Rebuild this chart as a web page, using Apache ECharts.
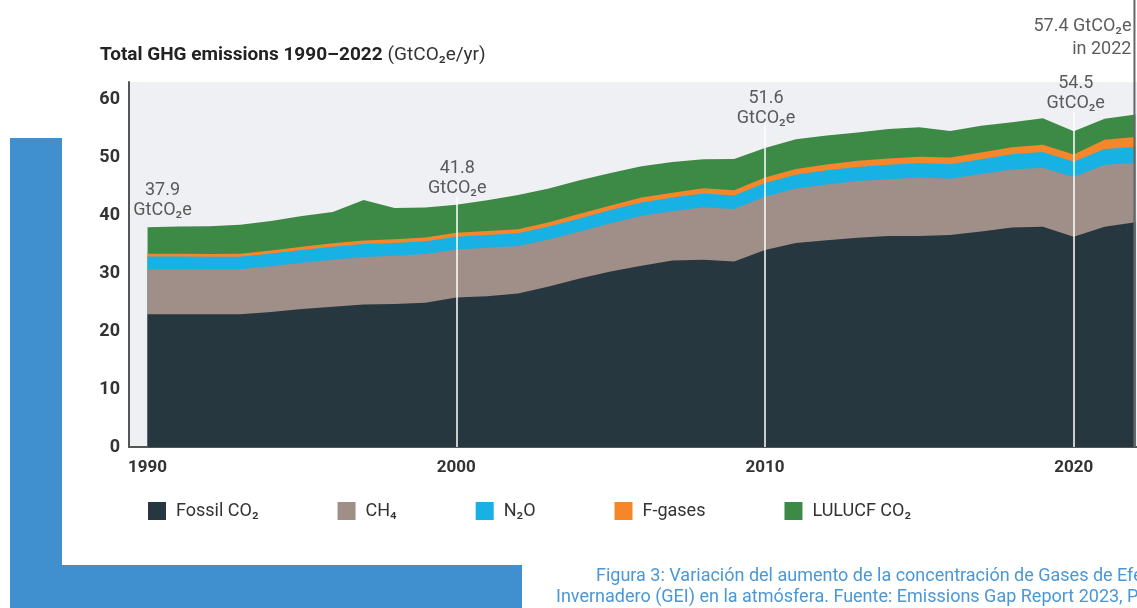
<!DOCTYPE html>
<html>
<head>
<meta charset="utf-8">
<script src="https://cdn.jsdelivr.net/npm/echarts@6/dist/echarts.min.js"></script>
<style>
  html, body { margin: 0; padding: 0; background: #fff; }
  #GhgChart { width: 1137px; height: 608px; }
</style>
</head>
<body>
<div id="GhgChart"></div>
<script>
// 年份与各类排放 (GtCO2e/yr)
const years = [1990, 1991, 1992, 1993, 1994, 1995, 1996, 1997, 1998, 1999,
  2000, 2001, 2002, 2003, 2004, 2005, 2006, 2007, 2008, 2009,
  2010, 2011, 2012, 2013, 2014, 2015, 2016, 2017, 2018, 2019,
  2020, 2021, 2022];
const fossilCO2 = [22.9, 22.9, 22.9, 22.9, 23.3, 23.8, 24.2, 24.6, 24.7, 24.9,
  25.8, 26.0, 26.5, 27.7, 29.1, 30.3, 31.3, 32.2, 32.3, 32.0,
  34.0, 35.2, 35.7, 36.1, 36.4, 36.4, 36.6, 37.2, 37.9, 38.0,
  36.3, 38.0, 38.8];
const ch4 = [7.8, 7.8, 7.8, 7.8, 7.9, 8.0, 8.1, 8.2, 8.3, 8.4,
  8.3, 8.4, 8.2, 8.1, 8.1, 8.3, 8.6, 8.5, 9.1, 9.1,
  9.2, 9.4, 9.6, 9.8, 9.8, 10.1, 9.7, 9.9, 10.0, 10.2,
  10.3, 10.7, 10.2];
const n2o = [2.2, 2.2, 2.15, 2.15, 2.2, 2.2, 2.25, 2.25, 2.2, 2.2,
  2.2, 2.2, 2.2, 2.25, 2.25, 2.3, 2.3, 2.35, 2.35, 2.3,
  2.35, 2.4, 2.45, 2.45, 2.5, 2.5, 2.5, 2.55, 2.65, 2.7,
  2.65, 2.75, 2.8];
const fGases = [0.45, 0.45, 0.45, 0.5, 0.5, 0.55, 0.6, 0.6, 0.65, 0.65,
  0.7, 0.7, 0.7, 0.75, 0.8, 0.8, 0.85, 0.85, 0.9, 0.9,
  0.95, 1.0, 1.0, 1.05, 1.1, 1.1, 1.15, 1.2, 1.2, 1.25,
  1.25, 1.6, 1.7];
const lulucfCO2 = [4.6, 4.7, 4.8, 5.0, 5.1, 5.3, 5.4, 7.0, 5.4, 5.2,
  4.8, 5.3, 5.9, 5.8, 5.8, 5.6, 5.4, 5.3, 5.0, 5.4,
  5.1, 5.1, 5.0, 4.9, 5.1, 5.1, 4.6, 4.6, 4.3, 4.6,
  4.0, 3.6, 3.9];

const seriesNames = ['Fossil CO₂', 'CH₄', 'N₂O', 'F-gases', 'LULUCF CO₂'];
const seriesColors = ['#27373f', '#a08e88', '#17b1e3', '#f6862a', '#3d8a47'];

// 轴刻度
const xTicks = [1990, 2000, 2010, 2020];
const yTicks = [0, 10, 20, 30, 40, 50, 60];

// 标注 (总量)
const annotYears = [1990, 2000, 2010, 2020];
const annotTotals = [37.9, 41.8, 51.6, 54.5];
const finalYear = 2022;
const finalTotal = 57.4;

const FONT = 'Roboto, "Noto Sans", "DejaVu Sans", sans-serif';

const myChart = echarts.init(document.getElementById('GhgChart'));

// 累计值，从上往下画（上层先画，下层覆盖）
const layers = [fossilCO2, ch4, n2o, fGases, lulucfCO2];
const cumulative = [];
layers.forEach(function (vals, i) {
  cumulative.push(vals.map(function (v, k) {
    return (i > 0 ? cumulative[i - 1][k] : 0) + v;
  }));
});

const areaSeries = [];
for (let i = layers.length - 1; i >= 0; i--) {
  areaSeries.push({
    name: seriesNames[i],
    type: 'line',
    showSymbol: false,
    symbol: 'none',
    silent: true,
    lineStyle: { width: 0 },
    itemStyle: { color: seriesColors[i] },
    areaStyle: { color: seriesColors[i], opacity: 1 },
    data: years.map(function (y, k) { return [y, cumulative[i][k]]; })
  });
}

// 白色竖线 (画在最上层的 Fossil 系列上)
const lineExtra = [1.5, 4, 3.3];
areaSeries[areaSeries.length - 1].markLine = {
  silent: true,
  symbol: ['none', 'none'],
  label: { show: false },
  lineStyle: { color: '#ffffff', width: 1.5, type: 'solid' },
  data: annotYears.slice(1).map(function (y, i) {
    return [{ coord: [y, 0] }, { coord: [y, annotTotals[i + 1] + lineExtra[i]] }];
  })
};

const labelOffsets = [[15, -2], [1, -1], [1, -15], [2, -13]];
const annotSeries = {
  type: 'scatter',
  symbolSize: 0,
  silent: true,
  z: 10,
  data: annotYears.map(function (y, i) {
    return {
      value: [y, annotTotals[i]],
      label: {
        show: true,
        position: 'top',
        offset: labelOffsets[i],
        formatter: annotTotals[i].toFixed(1) + '\nGtCO₂e',
        fontSize: 18,
        lineHeight: 20,
        color: '#333',
        fontFamily: FONT,
        align: 'center'
      }
    };
  }).concat([{
    value: [finalYear, finalTotal],
    label: {
      show: true,
      position: 'top',
      offset: [-4, -48],
      formatter: finalTotal.toFixed(1) + ' GtCO₂e\nin ' + finalYear,
      fontSize: 18,
      lineHeight: 23,
      color: '#333',
      fontFamily: FONT,
      align: 'right'
    }
  }])
};

myChart.setOption({
  animation: false,
  backgroundColor: '#ffffff',
  title: {
    left: 100,
    top: 46,
    padding: 0,
    text: '{b|Total GHG emissions 1990–2022} {n|(GtCO₂e/yr)}',
    textStyle: {
      rich: {
        b: { fontSize: 19, fontWeight: 'bold', color: '#222', fontFamily: FONT },
        n: { fontSize: 19, fontWeight: 'normal', color: '#333', fontFamily: FONT }
      }
    }
  },
  grid: {
    left: 129,
    right: 0,
    top: 82,
    bottom: 161,
    show: true,
    backgroundColor: '#eff0f4',
    borderWidth: 0
  },
  legend: {
    left: 148,
    top: 502,
    padding: 0,
    icon: 'rect',
    itemWidth: 18,
    itemHeight: 18,
    itemGap: 79,
    data: seriesNames,
    textStyle: { fontSize: 18, color: '#333', fontFamily: FONT, padding: [0, 0, 0, 5] }
  },
  xAxis: {
    type: 'value',
    min: 1989.4,
    max: 2022.05,
    axisLine: { show: true, lineStyle: { color: '#555', width: 2 } },
    axisTick: { show: false },
    splitLine: { show: false },
    axisLabel: {
      customValues: xTicks,
      formatter: function (v) { return String(v); },
      fontSize: 17,
      fontWeight: 'bold',
      color: '#333',
      fontFamily: FONT,
      margin: 12
    }
  },
  yAxis: {
    type: 'value',
    min: 0,
    max: 63,
    axisLine: { show: true, lineStyle: { color: '#555', width: 2 } },
    axisTick: { show: false },
    splitLine: { show: false },
    axisLabel: {
      customValues: yTicks,
      fontSize: 18,
      fontWeight: 'bold',
      color: '#333',
      fontFamily: FONT,
      margin: 9
    }
  },
  series: areaSeries.concat([annotSeries])
});

// 2022 竖线 + 装饰与图注
const p2022 = myChart.convertToPixel({ gridIndex: 0 }, [finalYear, 0]);
myChart.setOption({
  graphic: [
    { type: 'rect', z: -10, shape: { x: 10, y: 138, width: 52, height: 470 }, style: { fill: '#4090cf' } },
    { type: 'rect', z: -10, shape: { x: 10, y: 565, width: 512, height: 43 }, style: { fill: '#4090cf' } },
    { type: 'line', z: 50, shape: { x1: p2022[0] - 1, y1: 0, x2: p2022[0] - 1, y2: p2022[1] }, style: { stroke: '#666', lineWidth: 2 } },
    { type: 'text', left: 596, top: 567, style: { text: 'Figura 3: Variación del aumento de la concentración de Gases de Efecto', fill: '#4a97d6', font: '18px ' + FONT } },
    { type: 'text', left: 556, top: 588, style: { text: 'Invernadero (GEI) en la atmósfera. Fuente: Emissions Gap Report 2023, PNUMA', fill: '#4a97d6', font: '18px ' + FONT } }
  ]
});
</script>
</body>
</html>
